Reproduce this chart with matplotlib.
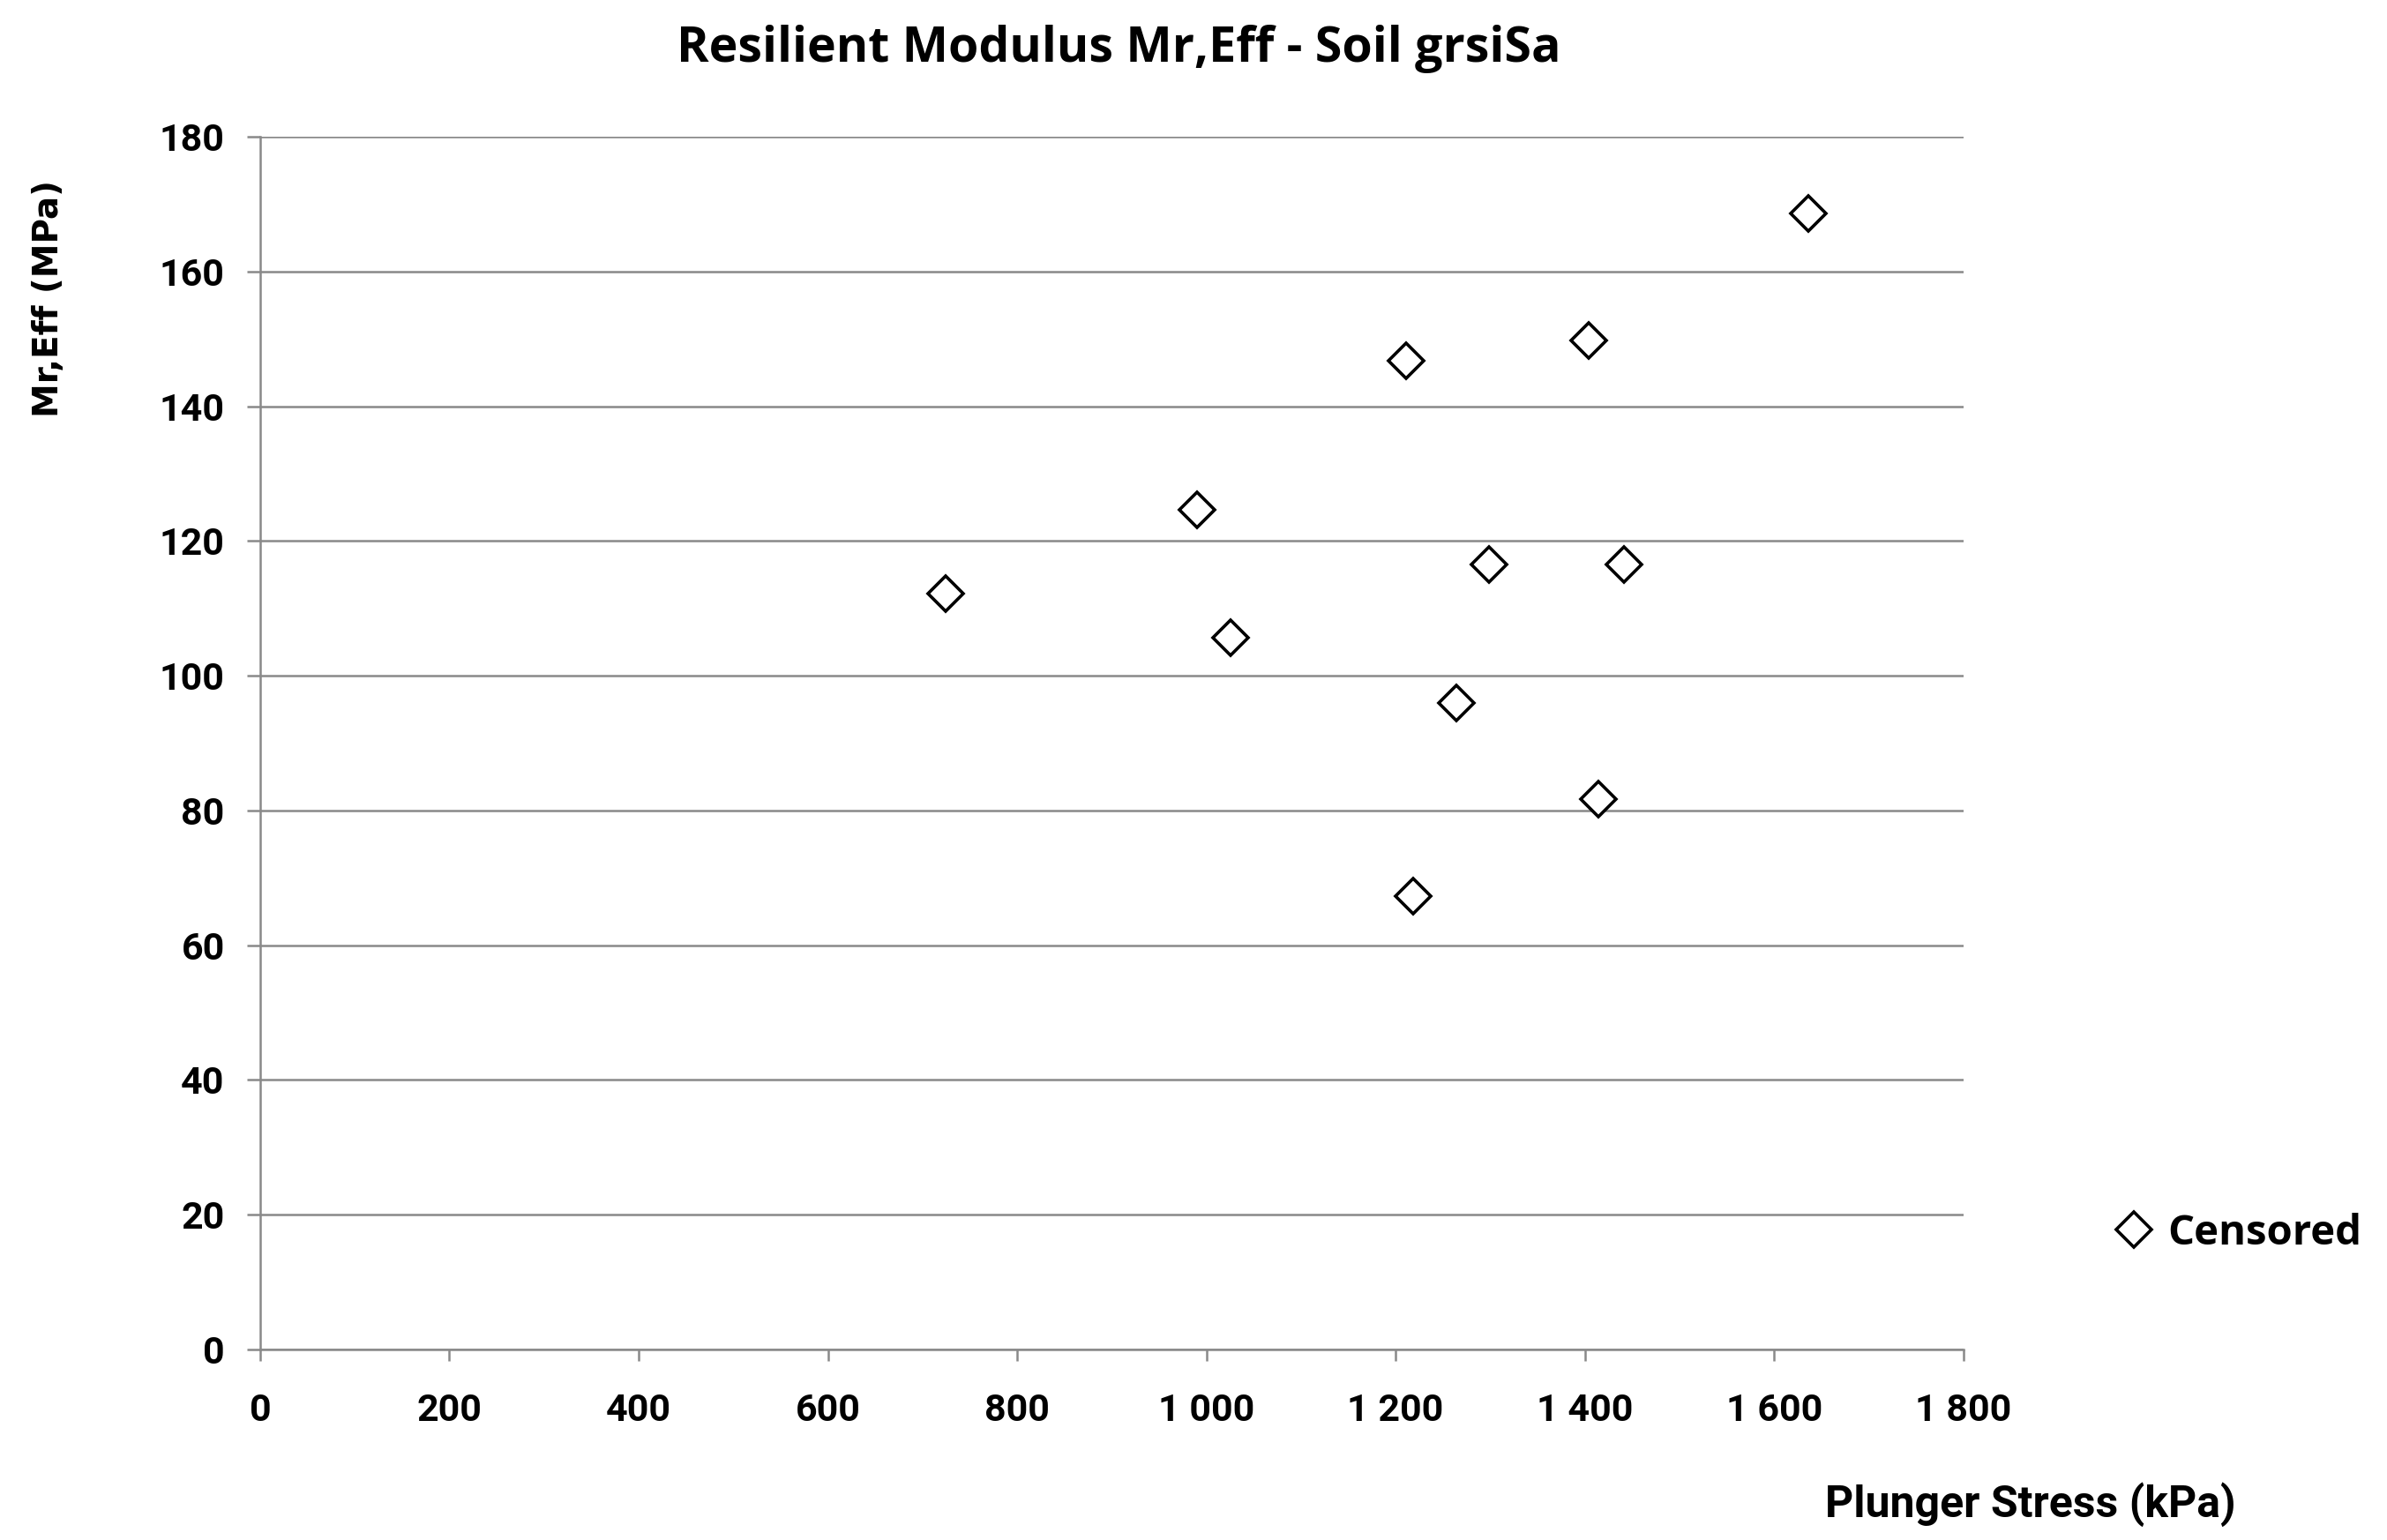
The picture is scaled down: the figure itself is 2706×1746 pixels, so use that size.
import numpy as np
import matplotlib.pyplot as plt

# data
stress = [724, 990, 1026, 1211, 1219, 1264, 1299, 1404, 1414, 1441, 1636]
mr_eff = [112.2, 124.6, 105.7, 146.7, 67.3, 96.0, 116.5, 149.7, 81.7, 116.5, 168.6]

x_ticks = [0, 200, 400, 600, 800, 1000, 1200, 1400, 1600, 1800]
x_labels = ["0", "200", "400", "600", "800", "1 000", "1 200", "1 400", "1 600", "1 800"]
y_ticks = [0, 20, 40, 60, 80, 100, 120, 140, 160, 180]

grey = "#898989"
narrow = ["Roboto", "DejaVu Sans"]

fig = plt.figure(figsize=(13.53, 8.73), dpi=200)
ax = fig.add_axes([0.109, 0.1237, 0.7135, 0.7875])

ax.plot(stress, mr_eff, linestyle="none", marker="D", ms=10, mfc="white",
        mec="black", mew=1.3, label="Censored", zorder=3)

ax.set_xlim(0, 1800)
ax.set_ylim(0, 180)
ax.set_xticks(x_ticks)
ax.set_xticklabels(x_labels)
ax.set_yticks(y_ticks)

ax.grid(axis="y", color=grey, linewidth=0.9)
ax.set_axisbelow(True)
for s in ["top", "right"]:
    ax.spines[s].set_visible(False)
for s in ["left", "bottom"]:
    ax.spines[s].set_color(grey)
    ax.spines[s].set_linewidth(0.9)

ax.tick_params(axis="x", direction="out", length=4.7, width=0.9, color=grey, pad=13)
ax.tick_params(axis="y", direction="out", length=5.5, width=0.9, color=grey, pad=9)
for lab in ax.get_xticklabels() + ax.get_yticklabels():
    lab.set_family(narrow)
    lab.set_fontweight("bold")
    lab.set_fontsize(15.5)

fig.text(0.4686, 0.968, "Resilient Modulus Mr,Eff - Soil grsiSa", ha="center", va="center",
         fontsize=20, fontweight="bold", family=["Open Sans", "DejaVu Sans"])
fig.text(0.0203, 0.806, "Mr,Eff (MPa)", rotation=90, ha="center", va="center",
         fontsize=14, fontweight="bold", family="DejaVu Sans")
fig.text(0.8505, 0.023, "Plunger Stress (kPa)", ha="center", va="center",
         fontsize=18, fontweight="bold", family=narrow)

leg = ax.legend(loc="center left", bbox_to_anchor=(1.066, 0.096), frameon=False,
                handlelength=1, handletextpad=0.3,
                prop={"family": "Open Sans", "weight": "bold", "size": 17})

fig.savefig("out.png", dpi=200, facecolor="white")
